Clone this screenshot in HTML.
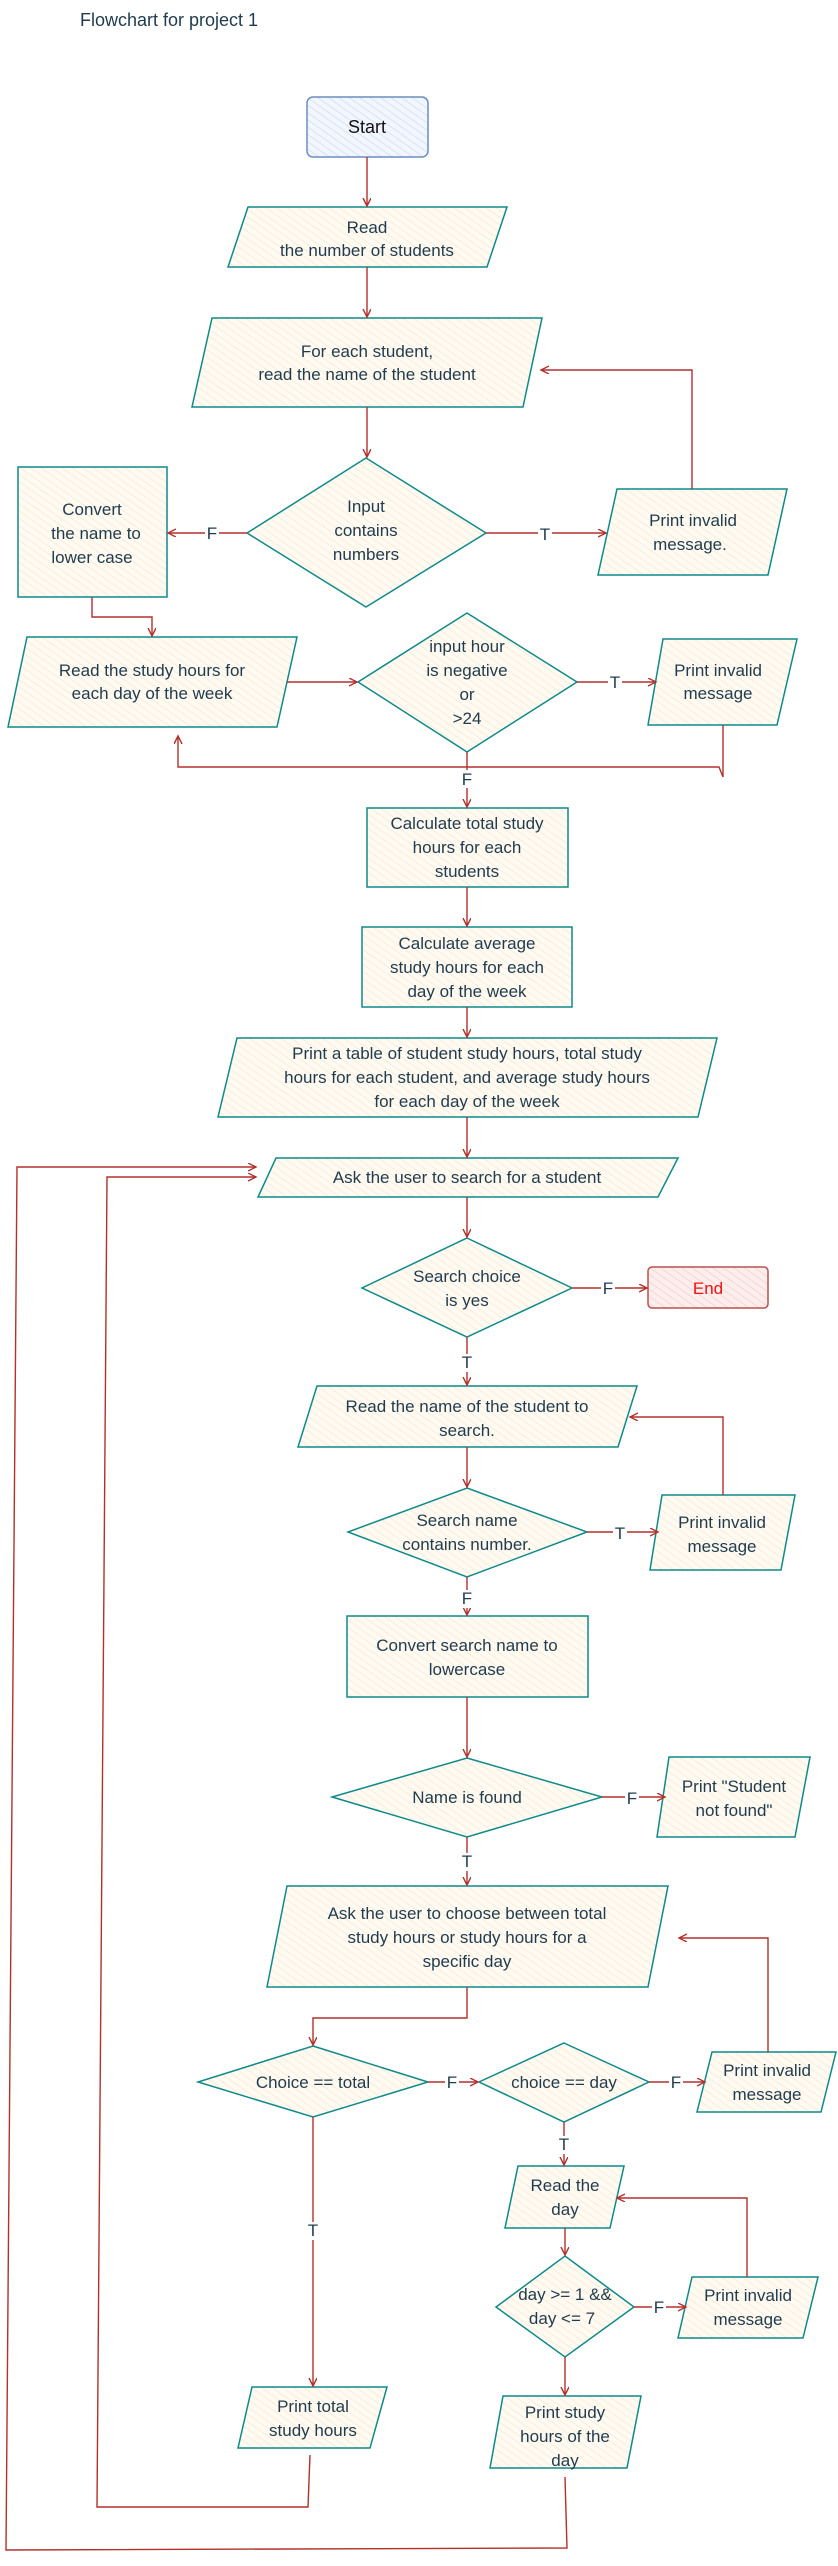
<!DOCTYPE html>
<html><head><meta charset="utf-8">
<style>
html,body{margin:0;padding:0;background:#fff;}
svg{display:block;}
text{font-family:"Liberation Sans",sans-serif;font-size:17px;fill:#1f3b4d;}
</style></head><body>
<svg width="838" height="2566" viewBox="0 0 838 2566" xmlns="http://www.w3.org/2000/svg">
<defs>
<pattern id="h" width="6" height="6" patternUnits="userSpaceOnUse" patternTransform="rotate(-55)">
<rect width="6" height="6" fill="#fffaf2"/>
<line x1="0" y1="0" x2="0" y2="6" stroke="#f7e3c8" stroke-width="1.2"/>
</pattern>
<pattern id="hb" width="6" height="6" patternUnits="userSpaceOnUse" patternTransform="rotate(-55)">
<rect width="6" height="6" fill="#f2f6ff"/>
<line x1="0" y1="0" x2="0" y2="6" stroke="#c9d7f3" stroke-width="1.2"/>
</pattern>
<pattern id="hr" width="6" height="6" patternUnits="userSpaceOnUse" patternTransform="rotate(-55)">
<rect width="6" height="6" fill="#fdeeee"/>
<line x1="0" y1="0" x2="0" y2="6" stroke="#f3c6c4" stroke-width="1.2"/>
</pattern>
<marker id="a" markerWidth="10" markerHeight="10" refX="8" refY="4" orient="auto" markerUnits="userSpaceOnUse">
<path d="M0,0 L8,4 L0,8" fill="none" stroke="#b2312b" stroke-width="1.4"/>
</marker>
</defs>

<text x="80" y="26" style="font-size:18px">Flowchart for project 1</text>

<g stroke="#0e8a8a" stroke-width="1.5" fill="url(#h)">
<rect x="307" y="97" width="121" height="60" rx="6" fill="url(#hb)" stroke="#6c8ebf"/>
<polygon points="248,207 507,207 487,267 228,267"/>
<polygon points="212,318 542,318 523,407 192,407"/>
<polygon points="366,458 486,533 366,607 247,533"/>
<rect x="18" y="467" width="149" height="130"/>
<polygon points="617,489 787,489 768,575 598,575"/>
<polygon points="27,637 297,637 277,727 8,727"/>
<polygon points="467,613 577,682 467,752 358,682"/>
<polygon points="663,639 797,639 777,725 648,725"/>
<rect x="367" y="808" width="201" height="79"/>
<rect x="362" y="927" width="210" height="80"/>
<polygon points="237,1038 717,1038 698,1117 218,1117"/>
<polygon points="276,1158 678,1158 658,1197 258,1197"/>
<polygon points="467,1238 572,1288 467,1337 362,1288"/>
<rect x="648" y="1267" width="120" height="41" rx="4" fill="url(#hr)" stroke="#b85450"/>
<polygon points="317,1386 637,1386 618,1447 298,1447"/>
<polygon points="467,1488 587,1532 467,1577 348,1532"/>
<polygon points="662,1495 795,1495 781,1570 650,1570"/>
<rect x="347" y="1616" width="241" height="81"/>
<polygon points="467,1758 602,1797 467,1837 332,1797"/>
<polygon points="669,1757 810,1757 795,1837 657,1837"/>
<polygon points="287,1886 668,1886 648,1987 267,1987"/>
<polygon points="313,2046 428,2082 313,2117 198,2082"/>
<polygon points="564,2043 649,2082 564,2122 479,2082"/>
<polygon points="712,2052 836,2052 821,2112 697,2112"/>
<polygon points="518,2166 624,2166 610,2228 505,2228"/>
<polygon points="565,2256 634,2307 565,2357 496,2307"/>
<polygon points="692,2277 818,2277 803,2338 678,2338"/>
<polygon points="503,2396 641,2396 627,2468 490,2468"/>
<polygon points="252,2387 387,2387 370,2448 238,2448"/>
</g>

<g stroke="#b2312b" stroke-width="1.4" fill="none" marker-end="url(#a)">
<line x1="367" y1="157" x2="367" y2="206"/>
<line x1="367" y1="267" x2="367" y2="317"/>
<line x1="367" y1="407" x2="367" y2="457"/>
<line x1="247" y1="533" x2="168" y2="533"/>
<line x1="486" y1="533" x2="606" y2="533"/>
<polyline points="692,489 692,370 541,370"/>
<polyline points="92,597 92,617 152,617 152,636"/>
<line x1="287" y1="682" x2="357" y2="682"/>
<line x1="577" y1="682" x2="656" y2="682"/>
<polyline points="723,725 723,777 719,767 178,767 178,736"/>
<line x1="467" y1="752" x2="467" y2="807"/>
<line x1="467" y1="887" x2="467" y2="926"/>
<line x1="467" y1="1007" x2="467" y2="1037"/>
<line x1="467" y1="1117" x2="467" y2="1157"/>
<line x1="467" y1="1197" x2="467" y2="1237"/>
<line x1="572" y1="1288" x2="647" y2="1288"/>
<line x1="467" y1="1337" x2="467" y2="1385"/>
<line x1="467" y1="1447" x2="467" y2="1487"/>
<line x1="587" y1="1532" x2="658" y2="1532"/>
<polyline points="723,1495 723,1417 630,1417"/>
<line x1="467" y1="1577" x2="467" y2="1615"/>
<line x1="467" y1="1697" x2="467" y2="1757"/>
<line x1="602" y1="1797" x2="665" y2="1797"/>
<line x1="467" y1="1837" x2="467" y2="1885"/>
<polyline points="768,2052 768,1938 679,1938"/>
<polyline points="467,1987 467,2018 313,2018 313,2045"/>
<line x1="428" y1="2082" x2="478" y2="2082"/>
<line x1="649" y1="2082" x2="705" y2="2082"/>
<line x1="313" y1="2117" x2="313" y2="2386"/>
<line x1="564" y1="2122" x2="564" y2="2165"/>
<line x1="565" y1="2228" x2="565" y2="2255"/>
<polyline points="747,2277 747,2198 617,2198"/>
<line x1="634" y1="2307" x2="686" y2="2307"/>
<line x1="565" y1="2357" x2="565" y2="2395"/>
<polyline points="310,2455 308,2507 97,2507 107,1177 256,1177"/>
<polyline points="565,2477 567,2548 6,2550 17,1167 256,1167"/>
</g>

<g style="font-size:16px" text-anchor="middle">
<rect x="205" y="523" width="14" height="18" fill="#fff"/><text x="212" y="539">F</text>
<rect x="538" y="525" width="14" height="18" fill="#fff"/><text x="545" y="540">T</text>
<rect x="608" y="674" width="14" height="18" fill="#fff"/><text x="615" y="688">T</text>
<rect x="460" y="770" width="14" height="18" fill="#fff"/><text x="467" y="785">F</text>
<rect x="601" y="1280" width="14" height="18" fill="#fff"/><text x="608" y="1294">F</text>
<rect x="460" y="1354" width="14" height="18" fill="#fff"/><text x="467" y="1368">T</text>
<rect x="613" y="1524" width="14" height="18" fill="#fff"/><text x="620" y="1539">T</text>
<rect x="460" y="1590" width="14" height="18" fill="#fff"/><text x="467" y="1604">F</text>
<rect x="625" y="1789" width="14" height="18" fill="#fff"/><text x="632" y="1804">F</text>
<rect x="460" y="1853" width="14" height="18" fill="#fff"/><text x="467" y="1867">T</text>
<rect x="445" y="2074" width="14" height="18" fill="#fff"/><text x="452" y="2088">F</text>
<rect x="669" y="2074" width="14" height="18" fill="#fff"/><text x="676" y="2088">F</text>
<rect x="306" y="2222" width="14" height="18" fill="#fff"/><text x="313" y="2236">T</text>
<rect x="557" y="2136" width="14" height="18" fill="#fff"/><text x="564" y="2150">T</text>
<rect x="652" y="2299" width="14" height="18" fill="#fff"/><text x="659" y="2313">F</text>
</g>

<g text-anchor="middle">
<text x="367" y="133" style="font-size:18px;fill:#111">Start</text>
<text x="367" y="233"><tspan x="367">Read</tspan><tspan x="367" dy="23">the number of students</tspan></text>
<text x="367" y="357"><tspan x="367">For each student,</tspan><tspan x="367" dy="23">read the name of the student</tspan></text>
<text x="366" y="512"><tspan x="366">Input</tspan><tspan x="366" dy="24">contains</tspan><tspan x="366" dy="24">numbers</tspan></text>
<text x="92" y="515"><tspan x="92">Convert</tspan><tspan x="96" dy="24">the name to</tspan><tspan x="92" dy="24">lower case</tspan></text>
<text x="693" y="526"><tspan x="693">Print invalid</tspan><tspan x="690" dy="24">message.</tspan></text>
<text x="152" y="676"><tspan x="152">Read the study hours for</tspan><tspan x="152" dy="23">each day of the week</tspan></text>
<text x="467" y="652"><tspan x="467">input hour</tspan><tspan x="467" dy="24">is negative</tspan><tspan x="467" dy="24">or</tspan><tspan x="467" dy="24">&gt;24</tspan></text>
<text x="718" y="676"><tspan x="718">Print invalid</tspan><tspan x="718" dy="23">message</tspan></text>
<text x="467" y="829"><tspan x="467">Calculate total study</tspan><tspan x="467" dy="24">hours for each</tspan><tspan x="467" dy="24">students</tspan></text>
<text x="467" y="949"><tspan x="467">Calculate average</tspan><tspan x="467" dy="24">study hours for each</tspan><tspan x="467" dy="24">day of the week</tspan></text>
<text x="467" y="1059"><tspan x="467">Print a table of student study hours, total study</tspan><tspan x="467" dy="24">hours for each student, and average study hours</tspan><tspan x="467" dy="24">for each day of the week</tspan></text>
<text x="467" y="1183">Ask the user to search for a student</text>
<text x="467" y="1282"><tspan x="467">Search choice</tspan><tspan x="467" dy="24">is yes</tspan></text>
<text x="708" y="1294" style="fill:#ee1111">End</text>
<text x="467" y="1412"><tspan x="467">Read the name of the student to</tspan><tspan x="467" dy="24">search.</tspan></text>
<text x="467" y="1526"><tspan x="467">Search name</tspan><tspan x="467" dy="24">contains number.</tspan></text>
<text x="722" y="1528"><tspan x="722">Print invalid</tspan><tspan x="722" dy="24">message</tspan></text>
<text x="467" y="1651"><tspan x="467">Convert search name to</tspan><tspan x="467" dy="24">lowercase</tspan></text>
<text x="467" y="1803">Name is found</text>
<text x="734" y="1792"><tspan x="734">Print "Student</tspan><tspan x="734" dy="24">not found"</tspan></text>
<text x="467" y="1919"><tspan x="467">Ask the user to choose between total</tspan><tspan x="467" dy="24">study hours or study hours for a</tspan><tspan x="467" dy="24">specific day</tspan></text>
<text x="313" y="2088">Choice == total</text>
<text x="564" y="2088">choice == day</text>
<text x="767" y="2076"><tspan x="767">Print invalid</tspan><tspan x="767" dy="24">message</tspan></text>
<text x="565" y="2191"><tspan x="565">Read the</tspan><tspan x="565" dy="24">day</tspan></text>
<text x="565" y="2300"><tspan x="565">day &gt;= 1 &amp;&amp;</tspan><tspan x="562" dy="24">day &lt;= 7</tspan></text>
<text x="748" y="2301"><tspan x="748">Print invalid</tspan><tspan x="748" dy="24">message</tspan></text>
<text x="565" y="2418"><tspan x="565">Print study</tspan><tspan x="565" dy="24">hours of the</tspan><tspan x="565" dy="24">day</tspan></text>
<text x="313" y="2412"><tspan x="313">Print total</tspan><tspan x="313" dy="24">study hours</tspan></text>
</g>
</svg>
</body></html>
